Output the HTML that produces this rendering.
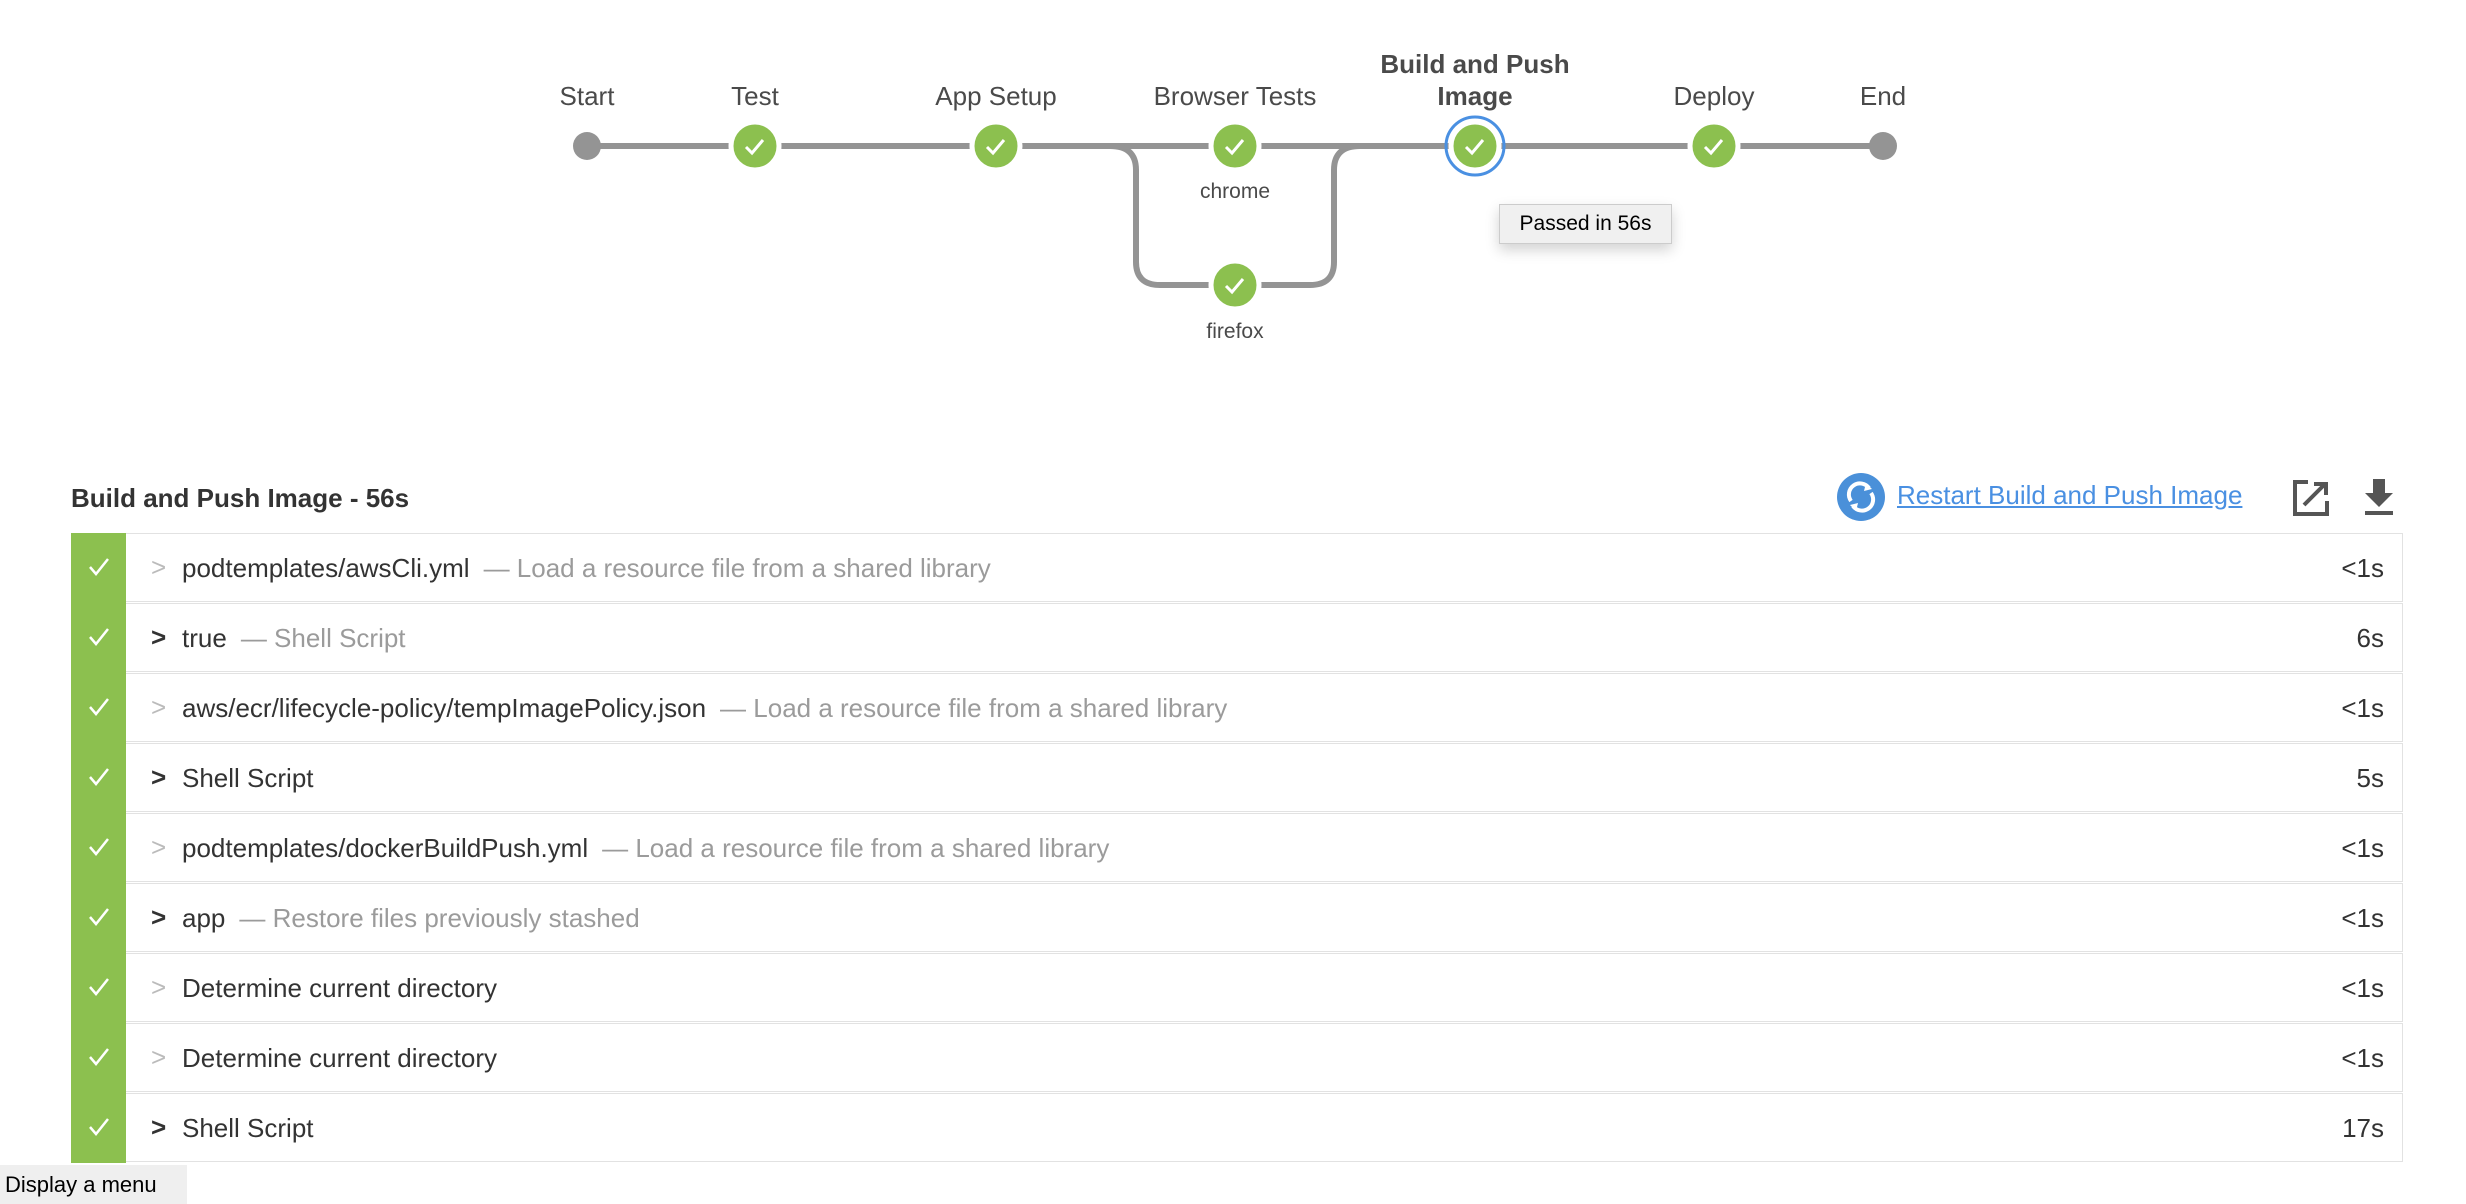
<!DOCTYPE html>
<html><head><meta charset="utf-8"><style>
body{margin:0;width:2466px;height:1204px;background:#fff;font-family:"Liberation Sans",sans-serif;position:relative;overflow:hidden;color:#4a4a4a}
.a{position:absolute;white-space:nowrap}
.row{position:absolute;left:71px;width:2331px;height:67px;border:1.5px solid #e2e2e2;border-left:none;box-sizing:content-box;background:#fff}
.bar{position:absolute;left:0;top:-1.5px;width:55px;height:70px;background:#8cc04f}
.bar svg{position:absolute;left:17px;top:24px}
.chev{position:absolute;left:80px;top:18px;font-size:26px;color:#bbb}
.chev.d{color:#333;font-weight:bold}
.t{position:absolute;left:111px;top:19px;font-size:26px;color:#333}
.t span{color:#9b9b9b;margin-left:14px}
.dur{position:absolute;right:18px;top:19px;font-size:26px;color:#333}
</style></head><body>
<svg class="a" style="left:0;top:0" width="2466" height="400">
<g fill="none" stroke="#949494" stroke-width="6">
<line x1="587" y1="146" x2="1883" y2="146"/>
<path d="M1110 146 Q1136 146 1136 170 L1136 262 Q1136 285 1160 285 L1310 285 Q1334 285 1334 262 L1334 170 Q1334 146 1360 146"/>
</g>
<circle cx="587" cy="146" r="14" fill="#949494"/>
<circle cx="1883" cy="146" r="14" fill="#949494"/>
<g fill="#8cc04f" stroke="#fff" stroke-width="5">
<circle cx="755" cy="146" r="24"/><circle cx="996" cy="146" r="24"/><circle cx="1235" cy="146" r="24"/><circle cx="1235" cy="285" r="24"/><circle cx="1714" cy="146" r="24"/><circle cx="1475" cy="146" r="24"/>
</g>
<circle cx="1475" cy="146" r="29" fill="none" stroke="#4a90e2" stroke-width="3"/>
<g fill="none" stroke="#fff" stroke-width="3">
<path d="M746 147 l6 6 l11 -13"/><path d="M987 147 l6 6 l11 -13"/><path d="M1226 147 l6 6 l11 -13"/><path d="M1226 286 l6 6 l11 -13"/><path d="M1705 147 l6 6 l11 -13"/><path d="M1466 147 l6 6 l11 -13"/>
</g>
<g font-family="Liberation Sans,sans-serif" font-size="26" fill="#4a4a4a" text-anchor="middle">
<text x="587" y="105">Start</text><text x="755" y="105">Test</text><text x="996" y="105">App Setup</text><text x="1235" y="105">Browser Tests</text><text x="1714" y="105">Deploy</text><text x="1883" y="105">End</text>
<text x="1475" y="73" font-weight="bold">Build and Push</text><text x="1475" y="105" font-weight="bold">Image</text>
<text x="1235" y="198" font-size="21">chrome</text><text x="1235" y="338" font-size="21">firefox</text>
</g>
</svg>
<div class="a" style="left:1499px;top:204px;width:171px;height:38px;background:#f0f0f0;border:1px solid #ccc;box-shadow:0 6px 14px rgba(0,0,0,.18);font-size:21px;color:#000;line-height:38px;text-align:center">Passed in 56s</div>
<div class="a" style="left:71px;top:483px;font-size:26px;font-weight:bold;color:#333">Build and Push Image - 56s</div>
<svg class="a" style="left:1837px;top:473px" width="48" height="48"><circle cx="24" cy="24" r="24" fill="#4a90d9"/><g fill="none" stroke="#fff" stroke-width="4"><path d="M14 28 A11 11 0 0 1 32 15"/><path d="M34 20 A11 11 0 0 1 16 33"/></g><path d="M29 10 l6 6 l-8 2z M19 38 l-6 -6 l8 -2z" fill="#fff"/></svg>
<div class="a" style="left:1897px;top:480px;font-size:26px;color:#4a90e2;text-decoration:underline">Restart Build and Push Image</div>
<svg class="a" style="left:2292px;top:479px" width="38" height="38"><path d="M16 3 H3 V35 H35 V22" fill="none" stroke="#555" stroke-width="4"/><path d="M12 26 L32 6 M22 5 H34 V16" fill="none" stroke="#555" stroke-width="4"/></svg>
<svg class="a" style="left:2362px;top:477px" width="34" height="40"><path d="M11 2 H23 V16 H31 L17 30 L3 16 H11z" fill="#555"/><rect x="3" y="34" width="28" height="4" fill="#555"/></svg>
<div class="row" style="top:533px"><div class="bar"><svg width="22" height="20"><path d="M2 10 l6 7 l12 -15" fill="none" stroke="#fff" stroke-width="2.5"/></svg></div><div class="chev">&gt;</div><div class="t">podtemplates/awsCli.yml<span>— Load a resource file from a shared library</span></div><div class="dur">&lt;1s</div></div>
<div class="row" style="top:603px"><div class="bar"><svg width="22" height="20"><path d="M2 10 l6 7 l12 -15" fill="none" stroke="#fff" stroke-width="2.5"/></svg></div><div class="chev d">&gt;</div><div class="t">true<span>— Shell Script</span></div><div class="dur">6s</div></div>
<div class="row" style="top:673px"><div class="bar"><svg width="22" height="20"><path d="M2 10 l6 7 l12 -15" fill="none" stroke="#fff" stroke-width="2.5"/></svg></div><div class="chev">&gt;</div><div class="t">aws/ecr/lifecycle-policy/tempImagePolicy.json<span>— Load a resource file from a shared library</span></div><div class="dur">&lt;1s</div></div>
<div class="row" style="top:743px"><div class="bar"><svg width="22" height="20"><path d="M2 10 l6 7 l12 -15" fill="none" stroke="#fff" stroke-width="2.5"/></svg></div><div class="chev d">&gt;</div><div class="t">Shell Script</div><div class="dur">5s</div></div>
<div class="row" style="top:813px"><div class="bar"><svg width="22" height="20"><path d="M2 10 l6 7 l12 -15" fill="none" stroke="#fff" stroke-width="2.5"/></svg></div><div class="chev">&gt;</div><div class="t">podtemplates/dockerBuildPush.yml<span>— Load a resource file from a shared library</span></div><div class="dur">&lt;1s</div></div>
<div class="row" style="top:883px"><div class="bar"><svg width="22" height="20"><path d="M2 10 l6 7 l12 -15" fill="none" stroke="#fff" stroke-width="2.5"/></svg></div><div class="chev d">&gt;</div><div class="t">app<span>— Restore files previously stashed</span></div><div class="dur">&lt;1s</div></div>
<div class="row" style="top:953px"><div class="bar"><svg width="22" height="20"><path d="M2 10 l6 7 l12 -15" fill="none" stroke="#fff" stroke-width="2.5"/></svg></div><div class="chev">&gt;</div><div class="t">Determine current directory</div><div class="dur">&lt;1s</div></div>
<div class="row" style="top:1023px"><div class="bar"><svg width="22" height="20"><path d="M2 10 l6 7 l12 -15" fill="none" stroke="#fff" stroke-width="2.5"/></svg></div><div class="chev">&gt;</div><div class="t">Determine current directory</div><div class="dur">&lt;1s</div></div>
<div class="row" style="top:1093px"><div class="bar"><svg width="22" height="20"><path d="M2 10 l6 7 l12 -15" fill="none" stroke="#fff" stroke-width="2.5"/></svg></div><div class="chev d">&gt;</div><div class="t">Shell Script</div><div class="dur">17s</div></div>
<div class="a" style="left:0;top:1165px;width:187px;height:39px;background:#efefef;font-size:22px;color:#000;line-height:39px;padding-left:5px;box-sizing:border-box">Display a menu</div>
</body></html>
